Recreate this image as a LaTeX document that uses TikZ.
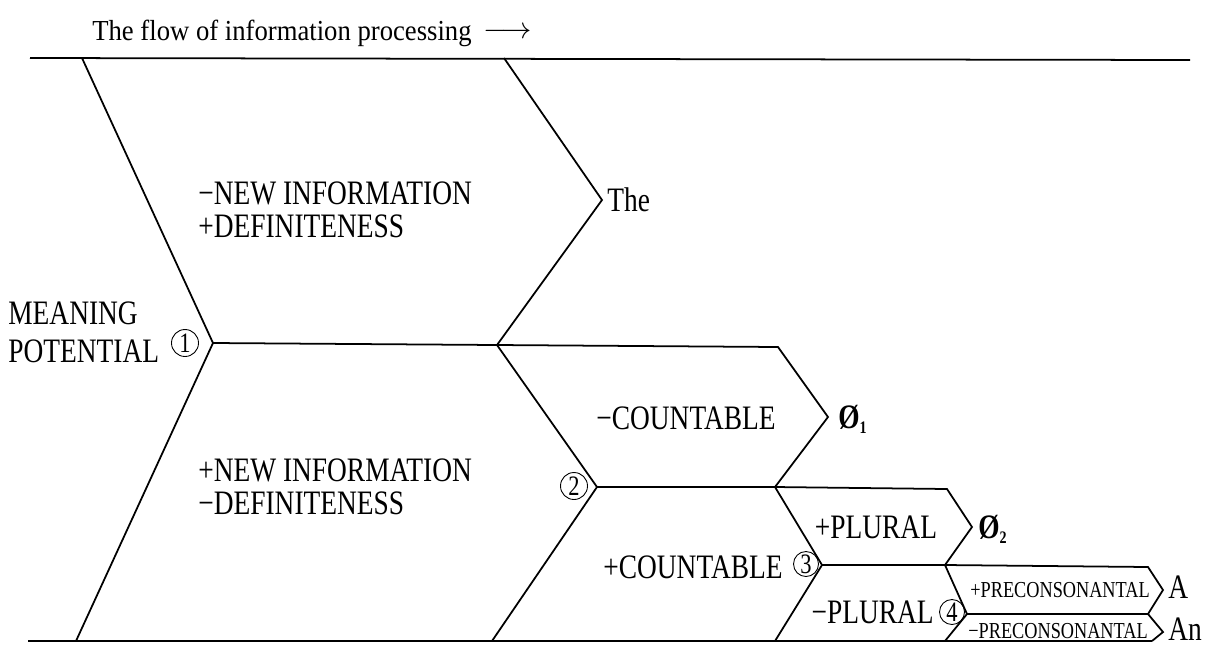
\documentclass[tikz,border=0pt]{standalone}
\usepackage{fontspec}
\setmainfont[FakeStretch=0.8]{Liberation Serif}
\newfontfamily\titlefont[FakeStretch=0.92]{Liberation Serif}
\usetikzlibrary{arrows.meta}

\newcommand{\nullsub}[1]{\textbf{Ø}\raisebox{-3pt}{\fontsize{10}{10}\selectfont\textbf{#1}}}

\begin{document}
\begin{tikzpicture}[x=0.02cm,y=-0.02cm,
  edge/.style={line width=1pt,line join=miter},
  lab/.style={font=\fontsize{19.5}{21}\selectfont,inner sep=0pt},
  pair/.style={lab,align=left,anchor=west,font=\fontsize{19.5}{18.7}\selectfont},
  outlab/.style={lab,anchor=base west},
  small/.style={font=\fontsize{13}{13}\selectfont,inner sep=0pt,anchor=base west},
  num/.style={draw,circle,line width=0.5pt,minimum size=0.54cm,inner sep=0pt,
    font=\fontsize{16}{16}\selectfont}]
\useasboundingbox (0,0) rectangle (1217,647);

% frame lines and vertices
\coordinate (tl) at (30,58);   \coordinate (tr) at (1190,60);
\coordinate (bl) at (28,641);  \coordinate (br) at (1152,641);
\coordinate (a0) at (82,58);   \coordinate (v1) at (213,343);  \coordinate (a1) at (76,641);
\coordinate (j1) at (497,345);
\coordinate (b0) at (504,58);  \coordinate (zt) at (602,200);
\coordinate (v2) at (597,487); \coordinate (c1) at (492,641);
\coordinate (k0) at (778,347); \coordinate (z1) at (828,417); \coordinate (j2) at (775,487);
\coordinate (p0) at (947,489); \coordinate (z2) at (972,527); \coordinate (j3) at (945,565);
\coordinate (v3) at (822,565); \coordinate (d1) at (775,641);
\coordinate (q0) at (1148,567);\coordinate (za) at (1163,590); \coordinate (q1) at (1148,614);
\coordinate (v4) at (967,614); \coordinate (e1) at (945,641);
\coordinate (zn) at (1163,632);\coordinate (r1) at (1152,641);

\draw[edge] (tl) -- (tr);
\draw[edge] (bl) -- (br);
\draw[edge] (a0) -- (v1) -- (a1);
\draw[edge] (v1) -- (j1);
\draw[edge] (b0) -- (zt) -- (j1);
\draw[edge] (j1) -- (v2) -- (c1);
\draw[edge] (j1) -- (k0) -- (z1) -- (j2);
\draw[edge] (v2) -- (j2) -- (p0) -- (z2) -- (j3);
\draw[edge] (j2) -- (v3) -- (d1);
\draw[edge] (v3) -- (j3) -- (q0) -- (za) -- (q1);
\draw[edge] (j3) -- (v4) -- (e1);
\draw[edge] (v4) -- (q1) -- (zn) -- (r1);

% texts
\node[anchor=base west,inner sep=0pt,font=\titlefont\fontsize{16.5}{16.5}\selectfont] (flow) at (92,40)
  {The flow of information processing\, \raisebox{1pt}{$\longrightarrow$}};
\node[pair] (given) at (198,210) {\textminus NEW INFORMATION\\+DEFINITENESS};
\node[pair] (new) at (198,487) {+NEW INFORMATION\\\textminus DEFINITENESS};
\node[pair,font=\fontsize{19.5}{21.5}\selectfont] (mp) at (8,332) {MEANING\\POTENTIAL};
\node[num] (n1) at (185,343) {1};
\node[num] (n2) at (574,486) {2};
\node[num,minimum size=0.5cm] (n3) at (806,564) {3};
\node[num,minimum size=0.5cm] (n4) at (952,612) {4};
\node[outlab] (the) at (607,211) {The};
\node[lab] (uncount) at (686,418) {\textminus COUNTABLE};
\node[outlab] (zero1) at (838,428) {\nullsub{1}};
\node[lab,anchor=east] (count) at (783,567) {+COUNTABLE};
\node[lab] (plural) at (876,527) {+PLURAL};
\node[outlab] (zero2) at (978,538) {\nullsub{2}};
\node[lab,anchor=east] (sing) at (934,612) {\textminus PLURAL};
\node[small] (precons) at (970,597) {+PRECONSONANTAL};
\node[small] (prevoc) at (968,638) {\textminus PRECONSONANTAL};
\node[outlab] (arta) at (1168,598) {A};
\node[outlab] (artan) at (1168,640) {An};
\end{tikzpicture}
\end{document}
